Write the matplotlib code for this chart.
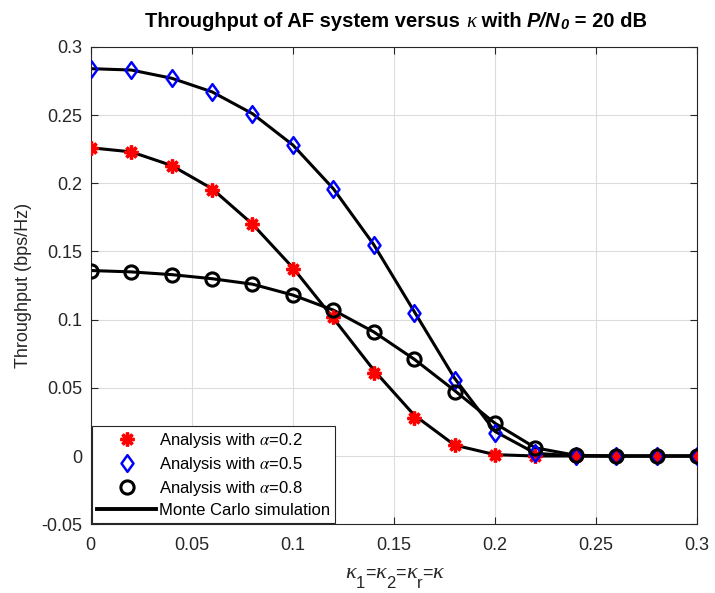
import matplotlib
matplotlib.use("Agg")
import matplotlib.pyplot as plt
from matplotlib.lines import Line2D
from matplotlib.path import Path

plt.rcParams['font.family'] = ['Liberation Sans', 'DejaVu Sans']
plt.rcParams['mathtext.fontset'] = 'stix'

kappa = [0.0, 0.02, 0.04, 0.06, 0.08, 0.10, 0.12, 0.14, 0.16, 0.18, 0.20, 0.22, 0.24, 0.26, 0.28, 0.30]
ana_a02 = [0.226, 0.223, 0.213, 0.195, 0.170, 0.137, 0.102, 0.061, 0.028, 0.008, 0.001, 0.0, 0.0, 0.0, 0.0, 0.0]
ana_a05 = [0.284, 0.283, 0.277, 0.267, 0.251, 0.228, 0.196, 0.155, 0.105, 0.056, 0.017, 0.002, 0.0, 0.0, 0.0, 0.0]
ana_a08 = [0.136, 0.135, 0.133, 0.130, 0.126, 0.118, 0.107, 0.091, 0.071, 0.047, 0.024, 0.006, 0.0005, 0.0, 0.0, 0.0]
sim_a02 = [0.226, 0.223, 0.213, 0.196, 0.170, 0.138, 0.101, 0.063, 0.030, 0.008, 0.001, 0.0, 0.0, 0.0, 0.0, 0.0]
sim_a05 = [0.284, 0.283, 0.277, 0.267, 0.251, 0.228, 0.196, 0.155, 0.106, 0.057, 0.018, 0.002, 0.0, 0.0, 0.0, 0.0]
sim_a08 = [0.136, 0.135, 0.133, 0.130, 0.126, 0.118, 0.107, 0.091, 0.071, 0.048, 0.024, 0.006, 0.0005, 0.0, 0.0, 0.0]
legend_labels = [r'Analysis with $\alpha$=0.2', r'Analysis with $\alpha$=0.5',
                 r'Analysis with $\alpha$=0.8', 'Monte Carlo simulation']
xticks = [0, 0.05, 0.1, 0.15, 0.2, 0.25, 0.3]
xtick_labels = ['0', '0.05', '0.1', '0.15', '0.2', '0.25', '0.3']
yticks = [-0.05, 0, 0.05, 0.1, 0.15, 0.2, 0.25, 0.3]
ytick_labels = ['-0.05', '0', '0.05', '0.1', '0.15', '0.2', '0.25', '0.3']

diamond = Path([(0, 1), (0.72, 0), (0, -1), (-0.72, 0), (0, 1)],
               [Path.MOVETO, Path.LINETO, Path.LINETO, Path.LINETO, Path.CLOSEPOLY])

st_red = dict(marker=(8, 2, 0), markersize=10, color='red', markeredgecolor='red', markeredgewidth=2.4)
st_blue = dict(marker=diamond, markersize=12, markerfacecolor='none', markeredgecolor='blue',
               markeredgewidth=1.8)
st_black = dict(marker='o', markersize=9.5, markerfacecolor='none', markeredgecolor='black',
                markeredgewidth=2.2)

fig = plt.figure(figsize=(7.15, 5.93), dpi=100)
ax = fig.add_axes([0.127, 0.116, 0.848, 0.805])

for s in (sim_a02, sim_a05, sim_a08):
    ax.plot(kappa, s, color='black', linewidth=2.2, zorder=2)

ax.plot(kappa, ana_a02, linestyle='none', zorder=3, **st_red)
ax.plot(kappa, ana_a05, linestyle='none', zorder=3, **st_blue)
ax.plot(kappa, ana_a08, linestyle='none', zorder=3, **st_black)

ax.set_xlim(0, 0.3)
ax.set_ylim(-0.05, 0.3)
ax.set_xticks(xticks)
ax.set_xticklabels(xtick_labels)
ax.set_yticks(yticks)
ax.set_yticklabels(ytick_labels)
ax.tick_params(direction='in', top=True, right=True, labelsize=13, colors='#262626', length=5)
ax.tick_params(axis='x', pad=9)
ax.tick_params(axis='y', pad=6)
ax.grid(True, color='#dcdcdc', linewidth=0.8)
ax.set_axisbelow(True)
for sp in ax.spines.values():
    sp.set_color('#262626')
    sp.set_linewidth(0.8)

ax.set_ylabel('Throughput (bps/Hz)', fontsize=13, color='#262626')
ax.yaxis.set_label_coords(-0.097, 0.5)

fig.canvas.draw()
renderer = fig.canvas.get_renderer()
W, H = fig.bbox.width, fig.bbox.height


def compose(pieces, base_y, center_x, color):
    """Place text pieces side by side; base_y / center_x in pixels from top-left."""
    placed = []
    x = 0.0
    for s, kw, dy in pieces:
        t = fig.text(0, 1 - (base_y + dy) / H, s, va='baseline', ha='left', color=color, **kw)
        bb = t.get_window_extent(renderer)
        placed.append((t, x))
        x += bb.width
    start = center_x - x / 2.0
    for t, xo in placed:
        t.set_x((start + xo) / W)


ax_center = 91 + (697 - 91) / 2.0

# Title with mixed fonts
tfs = 14.5
compose([
    ('Throughput of AF system versus ', dict(fontweight='bold', fontsize=tfs), 0),
    ('\u03ba', dict(family='Liberation Serif', style='italic', fontsize=15), 0),
    (' with ', dict(fontweight='bold', fontsize=tfs), 0),
    ('P/N', dict(fontweight='bold', style='italic', fontsize=tfs), 0),
    ('0', dict(fontweight='bold', style='italic', fontsize=10.5), 2),
    (' = 20 dB', dict(fontweight='bold', fontsize=tfs), 0),
], 27, ax_center + 2, 'black')

# x label: kappa_1 = kappa_2 = kappa_r = kappa
kap = dict(family='Liberation Serif', style='italic', fontsize=16)
sub = dict(fontsize=12)
eq = dict(fontsize=13)
compose([
    ('\u03ba', kap, 0), ('1', sub, 10), ('=', eq, 0),
    ('\u03ba', kap, 0), ('2', sub, 10), ('=', eq, 0),
    ('\u03ba', kap, 0), ('r', sub, 10), ('=', eq, 0),
    ('\u03ba', kap, 0),
], 578, ax_center, '#262626')

handles = [
    Line2D([], [], linestyle='none', **st_red),
    Line2D([], [], linestyle='none', **st_blue),
    Line2D([], [], linestyle='none', **st_black),
    Line2D([], [], color='black', linewidth=2.8),
]
leg = ax.legend(handles, legend_labels, loc='lower left', bbox_to_anchor=(0.0, 0.0), fontsize=12,
                fancybox=False, framealpha=1, edgecolor='#262626', handlelength=3.5,
                borderaxespad=0.1, labelspacing=0.3, borderpad=0.3, handletextpad=0.2)
leg.get_frame().set_linewidth(0.8)

fig.savefig('out.png', dpi=100)
